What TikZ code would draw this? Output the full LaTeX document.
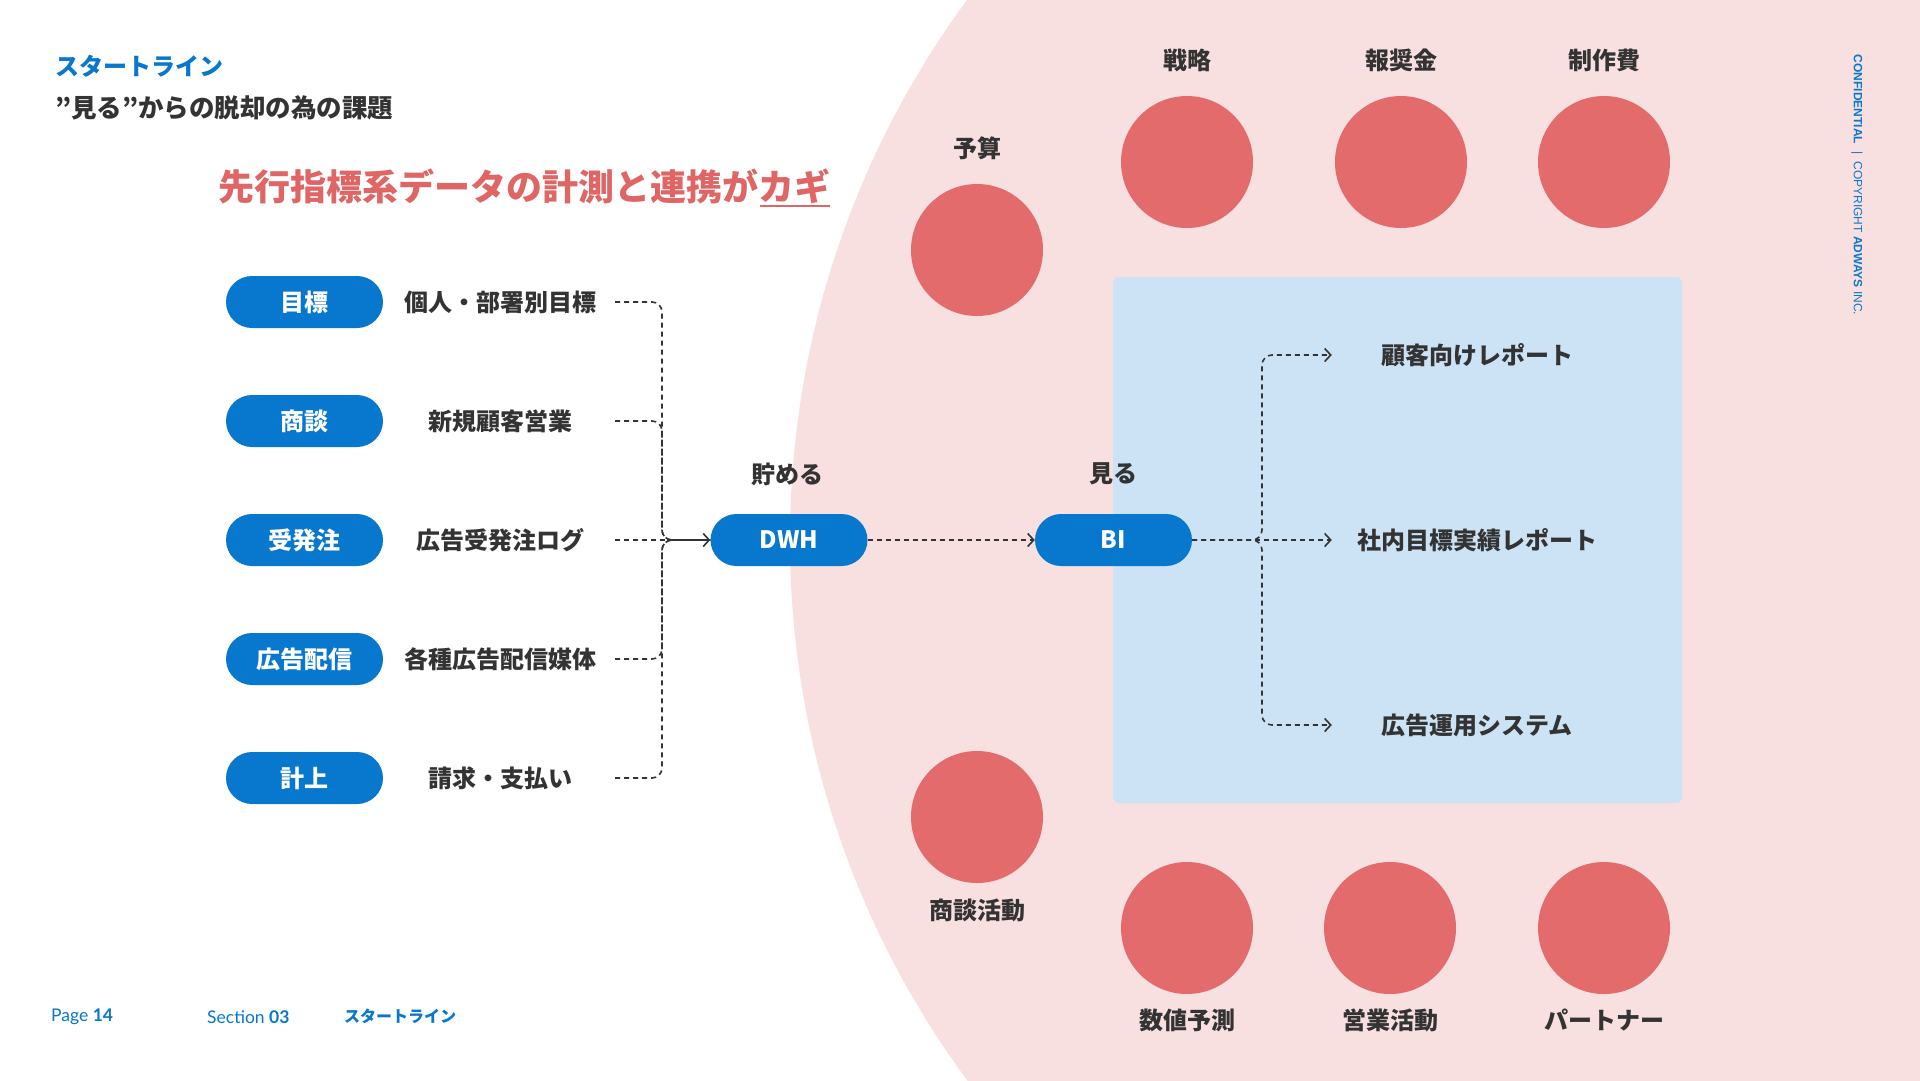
\documentclass[tikz,border=0pt]{standalone}
\usepackage{fontspec}
\setmainfont{Noto Sans CJK JP}
\newfontfamily\latinfont{Lato}
\newfontfamily\conffont{Liberation Sans}
\usetikzlibrary{arrows.meta}
\definecolor{brandblue}{RGB}{8,119,206}
\definecolor{pinkbg}{RGB}{248,223,224}
\definecolor{redc}{RGB}{227,107,107}
\definecolor{headred}{RGB}{224,102,102}
\definecolor{panelblue}{RGB}{204,227,245}
\definecolor{darktext}{RGB}{51,51,51}
\newcommand{\fs}[1]{\fontsize{#1}{#1}\selectfont}
\tikzset{
  pill/.style={fill=brandblue, rounded corners=26pt, minimum width=157pt, minimum height=52pt,
    text=white, font=\bfseries\fs{24}, inner sep=0pt},
  desc/.style={text=darktext, font=\bfseries\fs{24}, minimum width=230pt, inner sep=0pt},
  outl/.style={text=darktext, font=\bfseries\fs{24}, minimum width=290pt, inner sep=0pt},
  lbl/.style={text=darktext, font=\bfseries\fs{24}, inner sep=0pt},
  redcirc/.style={circle, fill=redc, minimum size=132pt, inner sep=0pt},
  flow/.style={draw=darktext, line width=1.6pt, dash pattern=on 5pt off 4pt, rounded corners=10pt},
  tip/.style={-{Straight Barb[length=6pt,width=13pt,line width=1.6pt]}},
  foot/.style={text=brandblue, font=\latinfont\fs{17.5}, inner sep=0pt, anchor=west},
}
\begin{document}
\begin{tikzpicture}[x=1pt,y=-1pt]
\useasboundingbox (0,0) rectangle (1920,1080);
\fill[white] (0,0) rectangle (1920,1080);
\begin{scope}
  \clip (0,0) rectangle (1920,1080);
  \fill[pinkbg] (1702,540) circle[radius=912pt];
\end{scope}
% blue panel
\node[fill=panelblue, rounded corners=6pt, minimum width=569pt, minimum height=526pt, inner sep=0pt] (panel) at (1397.5,540) {};

% titles
\node[anchor=west, inner sep=0pt, text=brandblue, font=\bfseries\fs{24}] (t1) at (55,66) {スタートライン};
\node[anchor=west, inner sep=0pt, text=darktext, font=\bfseries\fs{25.5}] (t2) at (55,108) {”見る”からの脱却の為の課題};
\node[anchor=west, inner sep=0pt, text=headred, font=\bfseries\fs{36}] (head) at (218,186) {先行指標系データの計測と連携がカギ};
\draw[headred, line width=2pt] ([xshift=-70pt,yshift=-20pt]head.east) -- ([yshift=-20pt]head.east);

% left pills and descriptions
\node[pill] (p1) at (304.5,302) {目標};
\node[pill] (p2) at (304.5,421) {商談};
\node[pill] (p3) at (304.5,540) {受発注};
\node[pill] (p4) at (304.5,659) {広告配信};
\node[pill] (p5) at (304.5,778) {計上};
\node[desc] (d1) at (500,302) {個人・部署別目標};
\node[desc] (d2) at (500,421) {新規顧客営業};
\node[desc] (d3) at (500,540) {広告受発注ログ};
\node[desc] (d4) at (500,659) {各種広告配信媒体};
\node[desc] (d5) at (500,778) {請求・支払い};

% DWH / BI
\node[pill] (dwh) at (789,540) {DWH};
\node[pill] (bi) at (1113.5,540) {BI};
\node[lbl] (l1) at (787,474) {貯める};
\node[lbl] (l2) at (1113.5,474) {見る};

% outputs
\node[outl] (o1) at (1477,355) {顧客向けレポート};
\node[outl] (o2) at (1477,540) {社内目標実績レポート};
\node[outl] (o3) at (1477,725) {広告運用システム};

% connectors left
\draw[flow] (d1.east) -- (662,302) -- (662,540) -- (dwh.west);
\draw[flow] (d2.east) -- (662,421) -- (662,540) -- (dwh.west);
\draw[flow] (d4.east) -- (662,659) -- (662,540) -- (dwh.west);
\draw[flow] (d5.east) -- (662,778) -- (662,540) -- (dwh.west);
\draw[flow, tip] (d3.east) -- (dwh.west);
\draw[flow, tip] (dwh.east) -- (bi.west);
% connectors right
\draw[flow, tip] (bi.east) -- (1262,540) -- (1262,355) -- (o1.west);
\draw[flow, tip] (bi.east) -- (o2.west);
\draw[flow, tip] (bi.east) -- (1262,540) -- (1262,725) -- (o3.west);

% red circles
\node[redcirc] (c1) at (977,250) {};
\node[redcirc] (c2) at (1187,162) {};
\node[redcirc] (c3) at (1401,162) {};
\node[redcirc] (c4) at (1604,162) {};
\node[redcirc] (c5) at (977,817) {};
\node[redcirc] (c6) at (1187,928) {};
\node[redcirc] (c7) at (1390,928) {};
\node[redcirc] (c8) at (1604,928) {};
\node[lbl] (cl1) at (977,148) {予算};
\node[lbl] (cl2) at (1187,60) {戦略};
\node[lbl] (cl3) at (1401,60) {報奨金};
\node[lbl] (cl4) at (1604,60) {制作費};
\node[lbl] (cl5) at (977,910) {商談活動};
\node[lbl] (cl6) at (1187,1020) {数値予測};
\node[lbl] (cl7) at (1390,1020) {営業活動};
\node[lbl] (cl8) at (1604,1020) {パートナー};

% footer
\node[foot] (f1) at (51,1017) {Page \textbf{14}};
\node[foot] (f2) at (207,1017) {Section \textbf{03}};
\node[foot, font=\bfseries\fs{16}] (f3) at (344,1016) {スタートライン};

% confidential
\node[rotate=-90, text=brandblue, font=\conffont\fs{12}, inner sep=0pt] (conf) at (1857,185)
  {\textbf{CONFIDENTIAL}\hspace{7pt}|\hspace{7pt}COPYRIGHT \textbf{ADWAYS} INC.};
\end{tikzpicture}
\end{document}
